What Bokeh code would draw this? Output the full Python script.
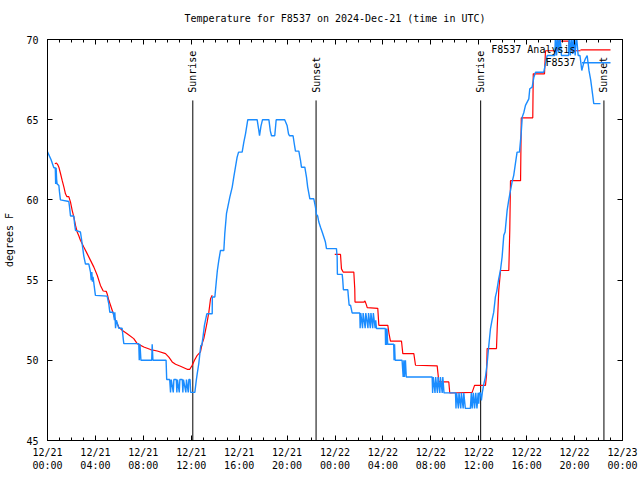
import math
from bokeh.plotting import figure
from bokeh.models import (Range1d, FixedTicker, LinearAxis, Label, BoxAnnotation,
                          CustomLabelingPolicy)
from bokeh.core.properties import value
from bokeh.embed import file_html
from bokeh.resources import INLINE

FONT = "DejaVu Sans Mono"
TITLE = "Temperature for F8537 on 2024-Dec-21 (time in UTC)"
NAN = float("nan")

# x ticks: hours since 2024-12-21 00:00 UTC
tick_hours = [0, 4, 8, 12, 16, 20, 24, 28, 32, 36, 40, 44, 48]
tick_labels = ["12/21\n00:00", "12/21\n04:00", "12/21\n08:00", "12/21\n12:00",
               "12/21\n16:00", "12/21\n20:00", "12/22\n00:00", "12/22\n04:00",
               "12/22\n08:00", "12/22\n12:00", "12/22\n16:00", "12/22\n20:00",
               "12/23\n00:00"]
y_ticks = [45, 50, 55, 60, 65, 70]

# observed station temperature (F8537)
obs_hours = [0.00, 0.30, 0.53, 0.65, 0.68, 0.72, 0.76, 0.80, 0.95, 1.00, 1.08, 1.78, 1.85, 1.92,
             2.20, 2.26, 2.34, 2.75, 2.85, 3.03, 3.17, 3.45, 3.59, 3.65, 3.70, 3.75, 3.80, 4.00,
             4.98, 5.12, 5.20, 5.48, 5.59, 5.62, 5.68, 5.75, 5.95, 6.23, 6.32, 6.37, 7.62, 7.66,
             7.72, 7.80, 8.70, 8.74, 8.80, 9.90, 9.95, 10.20, 10.27, 10.33, 10.50, 10.55, 10.75,
             10.80, 10.85, 11.00, 11.05, 11.25, 11.30, 11.35, 11.55, 11.60, 11.75, 11.80, 11.90,
             11.95, 12.30, 12.42, 12.50, 12.63, 12.72, 12.80, 12.88, 12.98, 13.10, 13.30, 13.75,
             13.76, 13.97, 14.10, 14.18, 14.30, 14.44, 14.72, 14.80, 14.94, 15.05, 15.22, 15.42,
             15.55, 15.69, 15.83, 15.95, 16.25, 16.39, 16.53, 16.72, 17.50, 17.64, 17.70, 17.82,
             17.95, 18.48, 18.60, 18.70, 18.97, 19.09, 19.80, 20.00, 20.12, 20.20, 20.50, 20.60,
             20.70, 20.98, 21.12, 21.20, 21.48, 21.62, 21.72, 21.90, 22.23, 22.37, 22.45, 22.55,
             22.65, 22.79, 22.93, 23.06, 23.20, 23.29, 24.12, 24.18, 24.20, 24.60, 24.65, 24.70,
             25.07, 25.12, 25.18, 25.30, 25.43, 26.07, 26.10, 26.15, 26.30, 26.35, 26.52, 26.57,
             26.75, 26.80, 26.95, 27.00, 27.15, 27.20, 27.35, 27.40, 27.46, 28.20, 28.22, 28.26,
             28.30, 28.34, 28.40, 28.90, 28.93, 28.97, 29.02, 29.60, 29.69, 29.75, 29.80, 29.88,
             29.95, 32.11, 32.15, 32.20, 32.35, 32.40, 32.55, 32.60, 32.75, 32.80, 32.95, 33.00,
             33.10, 34.06, 34.10, 34.15, 34.30, 34.35, 34.50, 34.55, 34.70, 34.75, 34.88, 35.30,
             35.38, 35.45, 35.55, 35.65, 35.75, 35.85, 35.95, 36.00, 36.05, 36.14, 36.22, 36.30,
             36.43, 36.56, 36.70, 36.80, 36.98, 37.11, 37.25, 37.39, 37.50, 37.67, 37.81, 37.95,
             38.09, 38.20, 38.37, 38.50, 38.65, 38.78, 38.92, 39.06, 39.20, 39.40, 39.54, 39.63,
             39.77, 39.90, 40.18, 40.26, 40.46, 40.60, 40.74, 41.43, 41.57, 41.71, 42.35, 42.40,
             42.50, 42.58, 42.68, 42.78, 42.90, 43.50, 43.55, 43.65, 43.75, 43.85, 43.95, 44.05,
             44.15, 44.30, 44.45, 44.60, 44.75, 44.90, 45.05, 45.20, 45.35, 45.50, 45.60, 46.16]
obs_temps = [63.0, 62.5, 62.0, 62.0, 61.0, 62.0, 61.3, 61.0, 60.9, 60.5, 60.0, 59.9, 59.5, 59.0,
             59.0, 58.5, 58.1, 58.0, 57.5, 56.5, 56.0, 56.0, 55.5, 55.0, 55.5, 54.9, 55.2, 54.05,
             54.0, 53.5, 53.0, 53.0, 52.5, 53.0, 52.0, 52.5, 52.0, 52.0, 51.35, 51.04, 51.04, 50.0,
             51.0, 50.0, 50.0, 51.0, 50.0, 50.0, 48.8, 48.8, 48.0, 48.8, 48.0, 48.8, 48.8,
             48.0, 48.8, 48.0, 48.8, 48.8, 48.0, 48.8, 48.0, 48.8, 48.0, 48.8, 48.8,
             48.0, 48.0, 48.75, 49.17, 49.8, 50.42, 50.93, 50.93, 51.45, 52.18, 52.9, 52.9,
             53.95, 53.95, 54.98, 55.6, 56.23, 56.85, 56.85, 57.9, 59.14, 59.55, 60.17, 60.8,
             61.42, 62.04, 62.67, 62.98, 62.98, 63.6, 64.12, 65.0, 65.0, 64.33, 64.0, 64.6,
             65.0, 65.0, 64.3, 64.0, 64.0, 65.0, 65.0, 64.64, 64.12, 64.0, 64.0, 63.5,
             63.04, 63.04, 62.46, 62.04, 62.04, 61.42, 60.8, 60.07, 60.07, 59.55, 59.1, 59.0,
             58.62, 58.3, 58.0, 57.7, 57.37, 56.96, 56.96, 56.44, 55.36, 55.36, 54.98, 54.4,
             54.4, 53.94, 53.43, 53.43, 52.95, 52.95, 52.0, 52.95, 52.0, 52.95, 52.0, 52.95,
             52.0, 52.95, 52.0, 52.95, 52.0, 52.95, 52.0, 52.5, 51.98, 51.98, 50.95, 51.98,
             50.95, 51.98, 51.0, 51.0, 50.0, 51.0, 50.0, 50.0, 48.96, 50.0, 48.96, 50.0,
             48.96, 48.96, 47.97, 48.96, 47.97, 48.96, 47.97, 48.96, 47.97, 48.96, 47.97, 48.96,
             47.97, 47.97, 47.0, 47.97, 47.0, 47.97, 47.0, 47.97, 47.0, 47.97, 47.0, 47.0,
             47.97, 47.0, 47.97, 47.0, 47.97, 47.0, 47.97, 47.3, 47.97, 47.97, 47.5, 48.0,
             48.55, 48.96, 49.8, 50.62, 51.98, 52.5, 53.0, 53.95, 54.3, 55.09, 55.6, 56.44,
             57.79, 58.0, 59.35, 59.97, 60.6, 61.11, 61.53, 62.26, 62.98, 62.98, 64.12, 65.16,
             65.47, 65.89, 66.3, 66.93, 67.03, 67.65, 67.96, 67.96, 68.5, 69.0, 69.0, 70.3,
             69.0, 70.3, 69.2, 70.3, 69.0, 69.0, 70.3, 69.0, 70.3, 69.1, 70.3, 69.0,
             70.3, 69.0, 69.0, 68.07, 68.5, 68.8, 69.0, 68.07, 67.45, 66.6, 66.0, 66.0]

# model analysis (F8537 Analysis), two pieces separated by a gap
ana_hours = [0.61, 0.75, 0.85, 0.95, 1.09, 1.23, 1.37, 1.50, 1.62, 1.78, 1.92, 2.06, 2.20, 2.34,
             2.48, 2.62, 2.75, 3.03, 3.31, 3.59, 3.87, 4.15, 4.42, 4.65, 4.90, 5.00, 5.12, 5.26,
             5.40, 5.54, 5.68, 5.95, 6.23, 6.65, 7.20, 7.49, 8.04, 8.60, 9.16, 9.85, 10.13, 10.41,
             10.69, 11.10, 11.66, 11.88, 12.08, 12.27, 12.50, 12.77, 12.91, 13.05, 13.19, 13.33,
             13.47, 13.61, 13.75, NAN,
             23.98, 24.46, 24.54, 24.68, 25.57, 25.65, 25.67, 26.40, 26.50, 26.60, 26.69, 27.57,
             27.66, 28.41, 28.50, 28.63, 29.55, 29.66, 30.58, 30.72, 32.53, 32.67, 33.50, 33.58,
             35.45, 35.65, 36.56, 36.65, 36.70, 37.48, 37.54, 37.67, 37.82, 38.51, 38.59, 38.65,
             39.49, 39.55, 40.51, 40.55, 41.49, 41.57, 42.55, 42.60, 43.52, 43.55, 44.50]
ana_temps = [62.25, 62.3, 62.2, 62.04, 61.63, 61.2, 60.8, 60.38, 60.2, 60.2, 59.86, 59.35, 58.93, 58.41,
             58.0, 57.75, 57.48, 57.06, 56.65, 56.23, 55.81, 55.3, 54.67, 54.32, 54.3, 54.1, 53.74, 53.43,
             53.12, 52.8, 52.5, 52.07, 51.87, 51.66, 51.35, 51.04, 50.83, 50.67, 50.58, 50.42, 50.2, 49.9,
             49.75, 49.63, 49.44, 49.44, 49.69, 50.0, 50.31, 50.52, 51.04, 51.35, 51.87, 52.39,
             53.0, 53.84, 54.05, NAN,
             56.6, 56.6, 55.7, 55.5, 55.5, 54.45, 53.63, 53.63, 53.7, 53.5, 53.28, 53.24,
             52.18, 52.18, 51.7, 51.2, 51.2, 50.42, 50.42, 49.69, 49.65, 48.65, 48.65, 47.96,
             48.0, 48.44, 48.44, 49.07, 50.73, 50.73, 51.98, 54.36, 55.6, 55.6, 58.1, 61.2,
             61.2, 65.12, 65.12, 67.86, 67.86, 69.3, 69.3, 69.9, 69.9, 69.3, 69.3]

sun_hours = [12.13, 22.42, 36.16, 46.45]
sun_labels = ["Sunrise", "Sunset", "Sunrise", "Sunset"]

BLUE = "#1a8cff"
RED = "#ff0000"

p = figure(width=640, height=480, output_backend="svg", toolbar_location=None,
           x_range=Range1d(0, 48), y_range=Range1d(45, 70),
           min_border_left=47, min_border_right=18, min_border_top=39, min_border_bottom=40)
p.background_fill_color = "white"
p.border_fill_color = "white"
p.outline_line_color = "black"
p.xgrid.visible = False
p.ygrid.visible = False

p.title.text = TITLE
p.title.align = "center"
p.title.text_font = FONT
p.title.text_font_size = "10px"
p.title.text_font_style = "normal"
p.title.text_color = "black"
p.title.standoff = 9

xt = FixedTicker(ticks=tick_hours, minor_ticks=list(range(0, 49)))
yt = FixedTicker(ticks=y_ticks, minor_ticks=[])

hide_labels = CustomLabelingPolicy(
    code="const ids = Array.from(indices); for (const i of ids) { indices.unset(i) } return indices")

def style_axis(ax, labels=True):
    ax.axis_line_color = "black"
    ax.major_tick_in = 5
    ax.major_tick_out = 0
    ax.minor_tick_in = 3
    ax.minor_tick_out = 0
    ax.major_tick_line_color = "black"
    ax.minor_tick_line_color = "black"
    ax.major_label_text_font = FONT
    ax.major_label_text_font_size = "10px"
    ax.major_label_text_color = "black"
    if not labels:
        ax.major_label_policy = hide_labels
        ax.major_label_standoff = 0

xa = p.xaxis[0]
xa.ticker = xt
xa.major_label_overrides = {h: lab for h, lab in zip(tick_hours, tick_labels)}
style_axis(xa)
xa.major_label_standoff = 6

ya = p.yaxis[0]
ya.ticker = yt
style_axis(ya)
ya.minor_tick_in = 0
ya.major_label_standoff = 9
ya.axis_label = "degrees F"
ya.axis_label_text_font = FONT
ya.axis_label_text_font_size = "10px"
ya.axis_label_text_font_style = "normal"
ya.axis_label_text_color = "black"
ya.axis_label_standoff = 8

top = LinearAxis(ticker=xt)
style_axis(top, labels=False)
p.add_layout(top, "above")
right = LinearAxis(ticker=yt)
style_axis(right, labels=False)
right.minor_tick_in = 0
p.add_layout(right, "right")

# sunrise / sunset markers
p.segment(x0=sun_hours, y0=45, x1=sun_hours, y1=66.2, line_color="black", line_width=1)
p.text(x=sun_hours, y=66.68, text=sun_labels, angle=math.pi / 2, text_align="left",
       text_baseline="middle", text_font=value(FONT), text_font_size="10px", text_color="black")

# data
p.line(ana_hours, ana_temps, line_color=RED, line_width=1.2)
p.line(obs_hours, obs_temps, line_color=BLUE, line_width=1.4)

# gnuplot-style key: text right-justified, sample line to the right
p.add_layout(Label(x=528, y=390.7, x_units="screen", y_units="screen", text="F8537 Analysis",
                   text_align="right", text_baseline="middle", text_font=FONT,
                   text_font_size="10px", text_color="black"))
p.add_layout(Label(x=528, y=377.7, x_units="screen", y_units="screen", text="F8537",
                   text_align="right", text_baseline="middle", text_font=FONT,
                   text_font_size="10px", text_color="black"))
p.add_layout(BoxAnnotation(left=533, right=563, bottom=390.1, top=391.3,
                           left_units="screen", right_units="screen",
                           bottom_units="screen", top_units="screen",
                           fill_color=RED, fill_alpha=1, line_color=None))
p.add_layout(BoxAnnotation(left=534.5, right=563, bottom=377.1, top=378.4,
                           left_units="screen", right_units="screen",
                           bottom_units="screen", top_units="screen",
                           fill_color=BLUE, fill_alpha=1, line_color=None))

open("out.html", "w").write(file_html(p, INLINE))
